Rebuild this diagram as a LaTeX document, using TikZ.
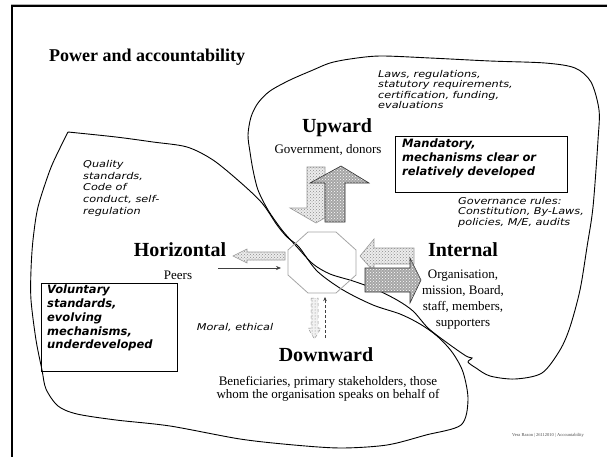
\documentclass[tikz,border=0pt]{standalone}
\usepackage{fontspec}
\setmainfont{Liberation Serif}
\newfontfamily\handl{DejaVu Sans}[FakeStretch=1.2]
\newfontfamily\handb{DejaVu Sans}
\usetikzlibrary{patterns,arrows.meta}
\begin{document}
\begin{tikzpicture}[x=1pt,y=-1pt,
  hw/.style={font=\handl\itshape\fontsize{9.4}{10.4}\selectfont, align=left, inner sep=0pt, anchor=north west},
  hwb/.style={font=\handb\bfseries\itshape\fontsize{11.5}{13.7}\selectfont, align=left, inner sep=0pt, anchor=north west},
  head/.style={font=\bfseries\fontsize{20}{22}\selectfont, inner sep=0pt},
  plain/.style={font=\fontsize{13}{16}\selectfont, inner sep=0pt, align=center},
  blob/.style={draw=black, line width=0.9pt},
  lightarrow/.style={draw=gray!80, line width=0.6pt, preaction={fill=gray!15}, pattern=crosshatch dots, pattern color=gray!90},
  darkarrow/.style={draw=black!80, line width=0.6pt, preaction={fill=gray!70}, pattern=crosshatch dots, pattern color=white},
  infobox/.style={draw=black, line width=0.6pt}
]
\useasboundingbox (0,0) rectangle (607,457);
\fill[white] (0,0) rectangle (607,457);
% frame
\draw[gray!60, line width=1.2pt] (11,4.2) -- (607,4.2);
\draw[black, line width=2.2pt] (11,6.4) -- (607,6.4);
\draw[black, line width=2.2pt] (12,6) -- (12,457);

% title
\node[font=\bfseries\fontsize{18}{20}\selectfont, inner sep=0pt, anchor=west] (title) at (49,57) {Power and accountability};

% left blob (sharp corner at top left)
\draw[blob, line join=miter] plot[smooth, tension=0.5] coordinates {
 (68,132) (116,137) (153,142) (187,147) (213,160) (240,182) (262,203) (277,225)
 (287,237) (299,247) (317,271) (343,290) (373,305) (400,314) (420,324) (437,336)
 (452,352) (463,372) (468,400) (461,425) (426,435) (387,445) (341,448) (294,445)
 (240,439) (170,426) (116,420) (77,414) (58,406) (46,389) (42,370) (36,340)
 (31,300) (31,270) (33,240) (38,207) (50,170) (60,148) (68,132)};

% right blob
\draw[blob] plot[smooth cycle, tension=0.5] coordinates {
 (258,103) (270,91) (290,80) (313,70) (330,63) (350,59) (380,56) (430,58)
 (490,61) (545,63) (575,68) (591,82) (599,110) (598,140) (593,207) (587,247)
 (580,290) (570,327) (560,350) (542,373) (515,379) (490,376) (476,368)
 (468,362) (472,358) (466,356) (446,342) (428,328) (413,311) (397,300) (375,289)
 (353,281) (330,274) (313,264) (297,247) (282,230) (268,210) (258,190)
 (253,170) (250,152) (248,135) (251,117)};

% upper texts
\node[hw] (laws) at (378,70) {Laws, regulations,\\statutory requirements,\\certification, funding,\\evaluations};
\node[head] (upward) at (337,128) {Upward};
\node[plain] (gov) at (328,150) {Government, donors};
\node[infobox, minimum width=172pt, minimum height=56pt, anchor=north west] (mandbox) at (395,136) {};
\node[hwb] (mand) at (402,139) {Mandatory,\\mechanisms clear or\\relatively developed};

% up / down arrows
\draw[lightarrow] (307,167) -- (325,167) -- (325,208) -- (342,208) -- (316,223) -- (290,208) -- (307,208) -- cycle;
\draw[darkarrow] (325,222) -- (345,222) -- (345,183) -- (369,183) -- (341,166) -- (310,183) -- (325,183) -- cycle;

% governance
\node[hw, font=\handl\itshape\fontsize{9.4}{10.6}\selectfont] (gover) at (458,197) {Governance rules:\\Constitution, By-Laws,\\policies, M/E, audits};

% internal
\node[head] (internal) at (463,250) {Internal};
\node[plain, anchor=north] (org) at (463,270) {Organisation,\\mission, Board,\\staff, members,\\supporters};
\draw[lightarrow] (360,256) -- (374,239) -- (374,248) -- (414,248) -- (414,264) -- (374,264) -- (374,272) -- cycle;
\draw[darkarrow] (365,268) -- (410,268) -- (410,258) -- (421,280) -- (410,303) -- (410,292) -- (365,292) -- cycle;

% octagon
\draw[gray!70, line width=0.8pt] (308,232) -- (336,232) -- (356,250) -- (356,275) -- (336,293) -- (308,293) -- (288,275) -- (288,250) -- cycle;

% horizontal
\node[hw, font=\handl\itshape\fontsize{9.4}{11.7}\selectfont] (quality) at (83,160) {Quality\\standards,\\Code of\\conduct, self-\\regulation};
\node[head] (horiz) at (180,250) {Horizontal};
\node[plain] (peers) at (178,275) {Peers};
\draw[lightarrow] (233,256) -- (247,249) -- (247,252) -- (285,252) -- (285,260) -- (247,260) -- (247,263) -- cycle;
\coordinate (pa) at (218,268);
\coordinate (pb) at (281,268);
\draw[black!75, line width=0.6pt, -{Stealth[length=5pt,width=4pt]}] (pa) -- (pb);
\node[infobox, minimum width=136pt, minimum height=88pt, anchor=north west] (volbox) at (41,283) {};
\node[hwb] (vol) at (47,285) {Voluntary\\standards,\\evolving\\mechanisms,\\underdeveloped};

% downward
\node[hw, anchor=center] (moral) at (235,327) {Moral, ethical};
\draw[gray!80, dashed, line width=0.5pt, preaction={fill=gray!10}, pattern=dots, pattern color=gray] (311,298) -- (318,298) -- (318,328) -- (321,328) -- (314.5,339) -- (308,328) -- (311,328) -- cycle;
\coordinate (da) at (325,338);
\coordinate (db) at (325,297);
\draw[black!75, densely dashed, line width=0.5pt, -{Stealth[length=4pt,width=3.5pt]}] (da) -- (db);
\node[head] (down) at (326,355) {Downward};
\node[plain, font=\fontsize{13}{13}\selectfont, anchor=north] (benef) at (328,376) {Beneficiaries, primary stakeholders, those\\whom the organisation speaks on behalf of};

% footer
\node[font=\fontsize{4.5}{5}\selectfont, inner sep=0pt, text=black!70] (foot) at (548,435) {Vera Razon | 26112010 | Accountability};
\end{tikzpicture}
\end{document}
